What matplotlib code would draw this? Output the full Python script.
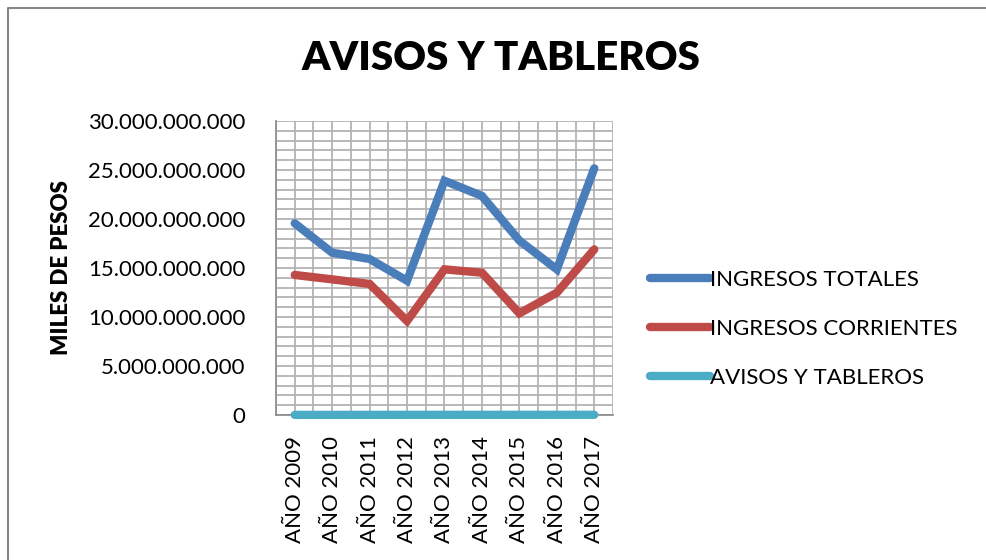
import matplotlib
matplotlib.use("Agg")
import matplotlib.pyplot as plt
from matplotlib.ticker import MultipleLocator, FuncFormatter
from matplotlib.lines import Line2D

years = ["AÑO 2009", "AÑO 2010", "AÑO 2011", "AÑO 2012", "AÑO 2013",
         "AÑO 2014", "AÑO 2015", "AÑO 2016", "AÑO 2017"]
ingresos_totales = [19.56e9, 16.56e9, 15.92e9, 13.70e9, 23.90e9,
                    22.35e9, 17.80e9, 14.86e9, 25.17e9]
ingresos_corrientes = [14.29e9, 13.84e9, 13.37e9, 9.59e9, 14.86e9,
                       14.52e9, 10.37e9, 12.48e9, 16.90e9]
avisos_tableros = [1.2e7, 1.3e7, 1.4e7, 1.5e7, 1.6e7,
                   1.7e7, 1.8e7, 1.9e7, 2.0e7]
series_names = ["INGRESOS TOTALES", "INGRESOS CORRIENTES", "AVISOS Y TABLEROS"]
colors = ["#4A7EBB", "#BE4B48", "#4BACC6"]

plt.rcParams['font.family'] = ['Lato', 'DejaVu Sans']

fig = plt.figure(figsize=(9.87, 5.6), dpi=100)
ax = fig.add_axes([276/987, 1-415/560, (613-276)/987, (415-121)/560])

x = list(range(len(years)))
for vals, name, c in zip([ingresos_totales, ingresos_corrientes, avisos_tableros],
                         series_names, colors):
    ax.plot(x, vals, color=c, lw=6, solid_capstyle='round',
            solid_joinstyle='miter', label=name, clip_on=False, zorder=3)

ax.set_xlim(-0.5, len(years) - 0.5)
ax.set_ylim(0, 30e9)
ax.yaxis.set_major_locator(MultipleLocator(5e9))
ax.yaxis.set_minor_locator(MultipleLocator(1e9))
ax.set_xticks(x)
ax.set_xticks([i - 0.5 for i in range(len(years) + 1)], minor=True)
ax.set_xticklabels(years, rotation=90, fontsize=16)
ax.yaxis.set_major_formatter(FuncFormatter(lambda v, p: f"{int(round(v)):,}".replace(",", ".")))
ax.tick_params(axis='y', labelsize=16, length=0, which='both', pad=22)
ax.tick_params(axis='x', length=0, which='both', pad=15)
ax.grid(True, which='both', color='#b3b3b3', lw=1.3)
ax.set_axisbelow(True)
for s in ['top', 'right']:
    ax.spines[s].set_visible(False)
for s in ['left', 'bottom']:
    ax.spines[s].set_color('#888888')
    ax.spines[s].set_linewidth(1.2)

ax.set_ylabel("MILES DE PESOS", fontsize=16, fontweight='heavy')
ax.yaxis.set_label_coords((72 - 276) / 337, (415 - 268) / 294)

fig.text(501/987, 1-58/560, "AVISOS Y TABLEROS", fontsize=29, fontweight='heavy',
         ha='center', va='center')

leg = ax.legend(loc='center left', bbox_to_anchor=((650 - 276) / 337, (415 - 329) / 294),
                frameon=False, fontsize=16, handlelength=2.7, handletextpad=0.0,
                labelspacing=1.3, borderaxespad=0, borderpad=0)

fig.add_artist(Line2D([8/987, 8/987, 1.0], [0.0, 1-8/560, 1-8/560],
                      transform=fig.transFigure, color='#888888', lw=1.5))

fig.savefig("out.png", dpi=100)
